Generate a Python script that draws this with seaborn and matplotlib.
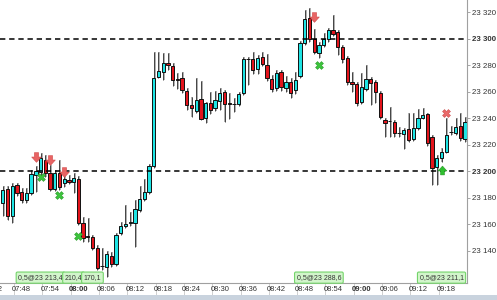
import numpy as np
import pandas as pd
import matplotlib
matplotlib.use("Agg")
import matplotlib.pyplot as plt
import matplotlib.transforms as mtransforms
from matplotlib.path import Path
import seaborn as sns

# ---------------- data (1-minute candles starting 07:44) ----------------
start_time = "07:44"
opens = [23175.9, 23186.4, 23166.0, 23189.4, 23184.2, 23178.1, 23183.4, 23197.0, 23199.2, 23208.3,
         23198.5, 23186.4, 23198.5, 23191.0, 23193.2, 23191.7, 23194.0, 23160.8, 23150.9, 23150.2,
         23141.9, 23128.3, 23127.5, 23135.8, 23129.8, 23153.2, 23158.5, 23160.8, 23160.8, 23170.6,
         23178.9, 23184.2, 23203.8, 23270.9, 23274.7, 23281.5, 23279.2, 23269.4, 23270.2, 23260.4,
         23249.8, 23245.3, 23254.3, 23240.0, 23251.3, 23247.5, 23252.8, 23259.6, 23251.3, 23250.6,
         23250.6, 23258.9, 23284.5, 23284.5, 23277.0, 23286.0, 23280.0, 23269.4, 23262.6, 23274.7,
         23262.6, 23267.2, 23261.1, 23271.7, 23296.6, 23315.5, 23299.6, 23289.1, 23295.1, 23299.6,
         23306.4, 23304.9, 23293.6, 23285.3, 23267.2, 23265.7, 23252.1, 23261.9, 23269.4, 23267.2,
         23258.9, 23238.5, 23237.7, 23237.0, 23228.7, 23227.9, 23231.7, 23224.2, 23232.5, 23240.0,
         23243.0, 23225.7, 23203.0, 23209.8, 23214.3, 23229.4, 23228.7, 23234.0, 23224.2]
closes = [23185.7, 23166.0, 23188.7, 23183.4, 23178.1, 23183.4, 23197.7, 23200.0, 23209.8, 23198.5,
          23186.4, 23198.5, 23187.9, 23194.0, 23191.7, 23194.7, 23160.8, 23149.4, 23150.2, 23141.9,
          23126.8, 23128.0, 23137.3, 23129.8, 23151.7, 23158.5, 23160.0, 23161.5, 23171.3, 23178.9,
          23184.2, 23203.8, 23270.2, 23275.5, 23281.5, 23280.0, 23268.7, 23269.0, 23261.1, 23249.8,
          23247.5, 23253.6, 23239.2, 23251.3, 23246.0, 23253.6, 23258.9, 23250.6, 23250.6, 23250.8,
          23258.1, 23284.5, 23284.3, 23276.2, 23285.3, 23280.8, 23270.2, 23261.9, 23274.0, 23263.4,
          23267.2, 23258.9, 23268.7, 23296.6, 23314.7, 23299.6, 23289.8, 23295.1, 23299.6, 23306.4,
          23303.4, 23293.6, 23284.5, 23267.2, 23265.7, 23251.3, 23263.4, 23269.4, 23266.4, 23259.6,
          23240.8, 23236.2, 23237.9, 23228.7, 23228.5, 23230.9, 23223.4, 23232.5, 23240.0, 23242.3,
          23221.1, 23202.3, 23209.8, 23214.3, 23227.2, 23229.6, 23233.2, 23224.9, 23237.0]
highs = [23188.7, 23188.7, 23191.0, 23191.0, 23187.0, 23187.0, 23200.8, 23203.8, 23213.6, 23212.0,
         23204.5, 23201.0, 23208.3, 23201.0, 23197.0, 23198.5, 23196.0, 23165.3, 23164.5, 23152.0,
         23144.0, 23141.9, 23139.6, 23139.0, 23153.0, 23161.5, 23174.3, 23169.0, 23178.0, 23188.7,
         23194.0, 23205.3, 23289.8, 23289.8, 23289.1, 23289.0, 23281.5, 23274.0, 23274.7, 23262.6,
         23255.8, 23270.2, 23267.9, 23252.0, 23259.6, 23260.4, 23262.6, 23261.0, 23258.9, 23255.1,
         23259.6, 23286.0, 23286.0, 23289.8, 23287.5, 23289.8, 23288.3, 23272.5, 23276.2, 23276.0,
         23271.7, 23270.2, 23274.7, 23298.0, 23321.5, 23323.0, 23307.2, 23297.4, 23304.2, 23308.0,
         23317.7, 23306.4, 23295.1, 23287.0, 23274.7, 23267.2, 23274.0, 23280.0, 23271.0, 23268.7,
         23260.4, 23240.0, 23248.3, 23238.5, 23233.2, 23232.5, 23243.8, 23243.8, 23246.8, 23247.5,
         23243.8, 23227.2, 23212.0, 23217.4, 23240.0, 23234.0, 23240.0, 23243.8, 23240.8]
lows = [23166.0, 23163.0, 23160.8, 23181.0, 23176.0, 23176.0, 23182.0, 23184.2, 23196.0, 23195.5,
        23185.0, 23185.0, 23185.7, 23188.0, 23190.0, 23183.4, 23159.3, 23146.4, 23146.4, 23140.4,
        23125.3, 23125.3, 23120.0, 23127.5, 23128.3, 23151.7, 23157.0, 23158.5, 23142.6, 23169.0,
        23177.4, 23182.6, 23202.3, 23270.2, 23268.7, 23276.0, 23264.2, 23261.9, 23258.9, 23246.0,
        23240.8, 23243.8, 23238.5, 23236.0, 23243.0, 23245.3, 23246.0, 23237.0, 23239.2, 23244.5,
        23249.0, 23257.4, 23264.9, 23273.0, 23273.0, 23279.2, 23267.9, 23259.6, 23260.4, 23260.4,
        23259.6, 23255.1, 23258.1, 23270.2, 23295.1, 23297.4, 23288.3, 23285.3, 23293.6, 23297.4,
        23302.0, 23287.5, 23281.5, 23264.9, 23259.6, 23249.0, 23250.6, 23260.4, 23249.8, 23251.3,
        23239.2, 23225.7, 23225.7, 23226.0, 23225.7, 23216.6, 23222.0, 23222.6, 23231.0, 23239.2,
        23219.0, 23189.4, 23189.4, 23207.0, 23213.6, 23227.2, 23227.2, 23222.6, 23222.0]

x_tick_labels = ["07:42", "07:48", "07:54", "08:00", "08:06", "08:12", "08:18", "08:24", "08:30",
                 "08:36", "08:42", "08:48", "08:54", "09:00", "09:06", "09:12", "09:18"]
bold_x_labels = ["08:00", "09:00"]
y_ticks = [23140, 23160, 23180, 23200, 23220, 23240, 23260, 23280, 23300, 23320]
level_lines = [23300, 23200]

sell_arrow_times = ["07:51", "07:54", "07:57", "08:50"]
sell_arrow_prices = [23210.6, 23208.3, 23199.6, 23316.0]
green_x_times = ["07:52", "07:56", "08:00", "08:51"]
green_x_prices = [23195.5, 23182.0, 23151.0, 23280.0]
red_x_times = ["09:18"]
red_x_prices = [23244.0]
buy_arrow_times = ["09:17"]
buy_arrow_prices = [23201.0]

fill_times = ["07:52", "07:59", "08:03", "08:51", "09:17"]
fill_texts = ["0,5@23 213,4", "210,4", "170,1", "0,5@23 288,6", "0,5@23 211,1"]

# ---------------- build table ----------------
times = pd.date_range("2024-01-01 " + start_time, periods=len(opens), freq="1min")
df = pd.DataFrame({"time": times, "open": opens, "high": highs, "low": lows, "close": closes})
df["pos"] = np.arange(len(df))
t0 = times[0]

def tpos(lab):
    t = pd.Timestamp("2024-01-01 " + lab)
    return (t - t0) / pd.Timedelta("1min")

sns.set_theme(style="white")
plt.rcParams["font.family"] = ["Liberation Sans", "DejaVu Sans"]

fig = plt.figure(figsize=(4.97, 3.0), dpi=100)
fig.patch.set_facecolor("white")
ax = fig.add_axes([0.0, 17 / 300, 467 / 497, 283 / 300])
ax.set_facecolor("white")

CYAN = "#1ee4e4"
RED = "#e3141c"

up = df["close"] >= df["open"]
ax.vlines(df["pos"] + 0.2, df["low"], df["high"], color="#a8a8a8", lw=1.3, zorder=1)
ax.vlines(df["pos"], df["low"], df["high"], color="#333333", lw=0.6, zorder=1.5)
body_bottom = np.minimum(df["open"], df["close"])
body_h = np.maximum(np.abs(df["close"] - df["open"]), 0.35)
ax.bar(df["pos"], body_h, bottom=body_bottom, width=0.7,
       color=np.where(up, CYAN, RED), edgecolor="#111111", linewidth=0.7, zorder=2)

for lv in level_lines:
    ax.axhline(lv, color="black", lw=1.1, ls=(0, (3.5, 2.5)), zorder=3)

# markers
down_arrow = Path([(-0.22, 0.5), (0.22, 0.5), (0.22, 0.05), (0.5, 0.05), (0.0, -0.5),
                   (-0.5, 0.05), (-0.22, 0.05), (-0.22, 0.5)],
                  [Path.MOVETO] + [Path.LINETO] * 6 + [Path.CLOSEPOLY])
up_arrow = Path([(x, -y) for x, y in down_arrow.vertices], down_arrow.codes)

sdf = pd.DataFrame({"x": [tpos(t) for t in sell_arrow_times], "y": sell_arrow_prices})
sns.scatterplot(data=sdf, x="x", y="y", marker=down_arrow, s=48, color="#e86464",
                edgecolor="#d04848", linewidth=0.4, ax=ax, zorder=5)
gdf = pd.DataFrame({"x": [tpos(t) for t in green_x_times], "y": green_x_prices})
sns.scatterplot(data=gdf, x="x", y="y", marker="X", s=32, color="#3cc43c",
                edgecolor="#2a9a2a", linewidth=0.4, ax=ax, zorder=5)
rdf = pd.DataFrame({"x": [tpos(t) for t in red_x_times], "y": red_x_prices})
sns.scatterplot(data=rdf, x="x", y="y", marker="X", s=32, color="#ea6a6a",
                edgecolor="#cc4a4a", linewidth=0.4, ax=ax, zorder=5)
bdf = pd.DataFrame({"x": [tpos(t) for t in buy_arrow_times], "y": buy_arrow_prices})
sns.scatterplot(data=bdf, x="x", y="y", marker=up_arrow, s=40, color="#2fbf2f",
                edgecolor="#229922", linewidth=0.4, ax=ax, zorder=5)

# fill boxes along bottom
trans = mtransforms.blended_transform_factory(ax.transData, ax.transAxes)
for t, txt in zip(fill_times, fill_texts):
    ax.text(tpos(t), 0.019, txt, transform=trans, ha="center", va="center",
            fontsize=5.0, color="#333333", zorder=6,
            bbox=dict(boxstyle="round,pad=0.3,rounding_size=0.2", fc="#d2f5cb", ec="#74d46a", lw=0.8))

# y axis on right
ax.yaxis.tick_right()
ax.set_yticks(y_ticks)
ax.set_yticklabels([f"{v:,}".replace(",", " ") for v in y_ticks])
ax.tick_params(axis="y", which="major", length=2.5, width=0.6, color="#999999",
               labelsize=5.7, labelcolor="#333333", pad=1.2, right=True, left=False)
for lab in ax.get_yticklabels():
    if int(lab.get_text().replace(" ", "")) in level_lines:
        lab.set_fontweight("bold")

# x axis: tick marks left of labels, labels as minor ticks
lab_pos = [tpos(l) for l in x_tick_labels]
ax.set_xticks([p - 1.6 for p in lab_pos])
ax.set_xticklabels([])
ax.set_xticks(lab_pos, minor=True)
ax.set_xticklabels(x_tick_labels, minor=True)
ax.tick_params(axis="x", which="major", length=9, width=0.6, color="#c8c8c8", bottom=True, direction="out")
ax.tick_params(axis="x", which="minor", length=0, labelsize=5.5, labelcolor="#333333", pad=2.5, bottom=True)
for lab in ax.get_xticklabels(minor=True):
    if lab.get_text() in bold_x_labels:
        lab.set_fontweight("bold")

# axis limits (after ticks so they are not expanded)
ax.set_xlim(-0.6, 98.4)
ax.set_ylim(23115.5, 23329.1)

# first label lies left of the view; draw it so the figure edge cuts it
ax.text(lab_pos[0], -0.012, x_tick_labels[0], transform=trans, ha="center", va="top",
        fontsize=5.5, color="#333333", clip_on=False)

ax.set_xlabel("")
ax.set_ylabel("")
for side in ["top", "left"]:
    ax.spines[side].set_visible(False)
for side in ["right", "bottom"]:
    ax.spines[side].set_visible(True)
    ax.spines[side].set_color("#a0a0a0")
    ax.spines[side].set_linewidth(0.8)

fig.patches.append(matplotlib.patches.Rectangle((0, 0), 1, 5 / 300, transform=fig.transFigure,
                                                fc="#c9d3de", ec="none"))

fig.savefig("out.png", dpi=100, facecolor="white")
